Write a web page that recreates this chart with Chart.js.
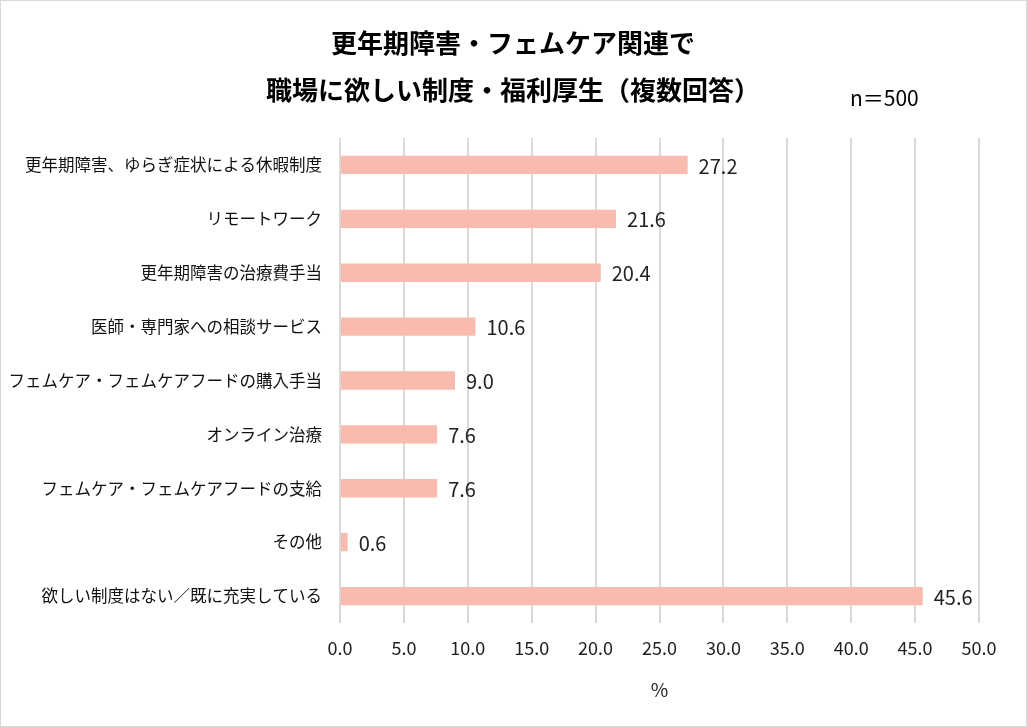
<!DOCTYPE html>
<html>
<head>
<meta charset="utf-8">
<script src="https://cdn.jsdelivr.net/npm/chart.js@4"></script>
<style>
  body { margin: 0; background: #fff; }
  #wrap { width: 1027px; height: 727px; }
</style>
</head>
<body>
<div id="wrap"><canvas id="chart"></canvas></div>
<script>
var categories = [
  '更年期障害、ゆらぎ症状による休暇制度',
  'リモートワーク',
  '更年期障害の治療費手当',
  '医師・専門家への相談サービス',
  'フェムケア・フェムケアフードの購入手当',
  'オンライン治療',
  'フェムケア・フェムケアフードの支給',
  'その他',
  '欲しい制度はない／既に充実している'
];
var values = [27.2, 21.6, 20.4, 10.6, 9.0, 7.6, 7.6, 0.6, 45.6];
var titleLines = ['更年期障害・フェムケア関連で', '職場に欲しい制度・福利厚生（複数回答）'];
var sampleNote = 'n＝500';
var axisTitle = '%';

var jp = '"Noto Sans CJK JP", "Noto Sans", sans-serif';

// titles, n note, outer frame and value labels
var decor = {
  id: 'decor',
  afterDraw: function(chart) {
    var c = chart.ctx;
    c.save();
    c.fillStyle = '#000';
    c.textAlign = 'center';
    c.textBaseline = 'middle';
    c.font = 'bold 26px ' + jp;
    c.fillText(titleLines[0], 513, 43);
    c.fillText(titleLines[1], 513, 90);
    c.font = '21px ' + jp;
    c.textAlign = 'left';
    c.fillText(sampleNote, 850, 98);

    var meta = chart.getDatasetMeta(0);
    c.font = '20px ' + jp;
    c.fillStyle = '#222';
    meta.data.forEach(function(bar, i) {
      c.fillText(values[i].toFixed(1), bar.x + 11, bar.y + 1);
    });

    c.strokeStyle = '#d9d9d9';
    c.lineWidth = 1;
    c.strokeRect(0.5, 0.5, chart.width - 1, chart.height - 1);
    c.restore();
  }
};

var ctx = document.getElementById('chart').getContext('2d');
var myChart = new Chart(ctx, {
  type: 'bar',
  data: {
    labels: categories,
    datasets: [{
      data: values,
      backgroundColor: '#f8bbae',
      borderWidth: 0,
      barPercentage: 0.34,
      categoryPercentage: 1.0
    }]
  },
  options: {
    indexAxis: 'y',
    responsive: true,
    maintainAspectRatio: false,
    animation: false,
    layout: { padding: { left: 10, right: 48, top: 138, bottom: 14 } },
    plugins: {
      legend: { display: false },
      tooltip: { enabled: false }
    },
    scales: {
      x: {
        min: 0,
        max: 50,
        ticks: {
          stepSize: 5,
          color: '#222',
          font: { family: jp, size: 18 },
          padding: 14,
          callback: function(v) { return Number(v).toFixed(1); }
        },
        grid: { color: '#d9d9d9', lineWidth: 2, drawTicks: false },
        border: { display: false },
        title: {
          display: true,
          text: axisTitle,
          color: '#222',
          font: { family: jp, size: 19 },
          padding: { top: 10, bottom: 12 }
        },
        afterFit: function(scale) { scale.height = 90; }
      },
      y: {
        ticks: {
          color: '#111',
          font: { family: jp, size: 16.5 },
          padding: 18
        },
        grid: { display: false, drawTicks: false },
        border: { display: false },
        afterFit: function(scale) { scale.width = 330; }
      }
    }
  },
  plugins: [decor]
});
</script>
</body>
</html>
